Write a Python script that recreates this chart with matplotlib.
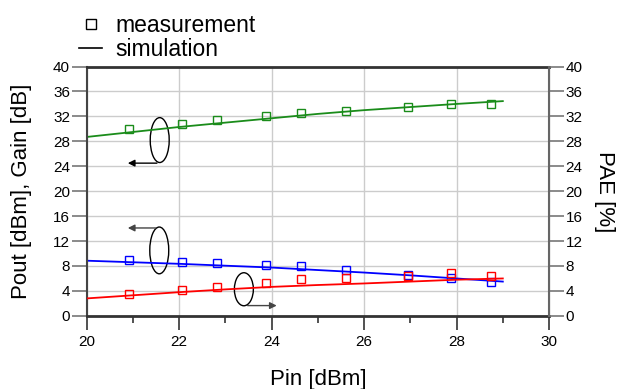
import numpy as np
import matplotlib.pyplot as plt
from matplotlib.patches import Ellipse
from matplotlib.lines import Line2D

plt.rcParams['font.family'] = ['Liberation Sans', 'DejaVu Sans']

# measured points
pin_meas = [20.92, 22.06, 22.81, 23.87, 24.63, 25.6, 26.95, 27.87, 28.75]
pout_meas = [29.9, 30.7, 31.4, 32.0, 32.5, 32.9, 33.5, 34.0, 34.0]
gain_meas = [9.0, 8.65, 8.5, 8.2, 7.95, 7.35, 6.55, 6.15, 5.4]
pae_meas = [3.45, 4.1, 4.65, 5.3, 5.9, 6.1, 6.45, 6.85, 6.4]

# simulation curves
pin_sim = [20, 21, 22, 23, 24, 25, 26, 27, 28, 29]
pout_sim = [28.7, 29.5, 30.3, 31.0, 31.7, 32.4, 33.0, 33.5, 34.0, 34.45]
gain_sim = [8.85, 8.6, 8.35, 8.05, 7.75, 7.35, 6.95, 6.5, 6.0, 5.5]
pae_sim = [2.8, 3.3, 3.8, 4.25, 4.65, 4.95, 5.2, 5.5, 5.8, 6.0]

fig = plt.figure(figsize=(6.19, 3.89), dpi=100)
ax = fig.add_axes([0.140, 0.188, 0.747, 0.641])
ax2 = ax.twinx()

ax.plot(pin_sim, pout_sim, color='#1a8c1a', lw=1.3)
ax.plot(pin_meas, pout_meas, 's', mfc='none', mec='#1a8c1a', ms=6, mew=1)
ax.plot(pin_sim, gain_sim, color='#0000ff', lw=1.3)
ax.plot(pin_meas, gain_meas, 's', mfc='none', mec='#0000ff', ms=6, mew=1)
ax2.plot(pin_sim, pae_sim, color='#ff0000', lw=1.3)
ax2.plot(pin_meas, pae_meas, 's', mfc='none', mec='#ff0000', ms=6, mew=1)

for a in (ax, ax2):
    a.set_xlim(20, 30)
    a.set_ylim(0, 40)
    a.set_yticks(np.arange(0, 41, 4))
ax.set_xticks(np.arange(20, 31, 2))
ax.set_xticks(np.arange(21, 30, 2), minor=True)
ax.grid(True, color='#cccccc', lw=1)
ax.set_axisbelow(True)

ax.tick_params(axis='x', which='major', length=10, width=1.2, color='#333333',
               labelsize=11, pad=4)
ax.tick_params(axis='x', which='minor', length=5, width=1.2, color='#333333')
ax.tick_params(axis='y', length=11, width=1.2, color='#777777', labelsize=11, pad=1)
ax2.tick_params(axis='y', length=11, width=1.2, color='#777777', labelsize=11, pad=1)

for s in ('top', 'bottom'):
    ax.spines[s].set_color('#333333')
    ax.spines[s].set_linewidth(2)
ax.spines['left'].set_color('#444444')
ax.spines['left'].set_linewidth(1.5)
ax2.spines['right'].set_color('#666666')
ax2.spines['right'].set_linewidth(1.5)
for s in ('top', 'bottom', 'left'):
    ax2.spines[s].set_visible(False)

ax.set_xlabel('Pin [dBm]', fontsize=16, labelpad=14)
ax.set_ylabel('Pout [dBm], Gain [dB]', fontsize=16, labelpad=15)
ax2.set_ylabel('PAE [%]', fontsize=16, rotation=270, labelpad=23)

# ellipses with arrows
ax.add_patch(Ellipse((21.58, 28.2), 0.41, 7.2, fill=False, ec='k', lw=1))
ax.annotate('', xy=(20.83, 24.5), xytext=(21.58, 24.5),
            arrowprops=dict(arrowstyle='-|>', color='k', lw=1, mutation_scale=10))
ax.add_patch(Ellipse((21.57, 10.5), 0.41, 7.5, fill=False, ec='k', lw=1))
ax.annotate('', xy=(20.83, 14.1), xytext=(21.55, 14.1),
            arrowprops=dict(arrowstyle='-|>', color='#444444', lw=1, mutation_scale=10))
ax.add_patch(Ellipse((23.4, 4.27), 0.41, 5.3, fill=False, ec='k', lw=1))
ax.annotate('', xy=(24.17, 1.65), xytext=(23.42, 1.65),
            arrowprops=dict(arrowstyle='-|>', color='#444444', lw=1, mutation_scale=10))

handles = [Line2D([], [], marker='s', ls='none', mfc='none', mec='k', ms=7, mew=1),
           Line2D([], [], color='k', lw=1.2)]
fig.legend(handles, ['measurement', 'simulation'], loc='upper left',
           bbox_to_anchor=(0.102, 1.005), frameon=False, fontsize=16.5,
           handlelength=1.0, handletextpad=0.6, labelspacing=0.05, borderpad=0.2)

fig.savefig('out.png', dpi=100)
